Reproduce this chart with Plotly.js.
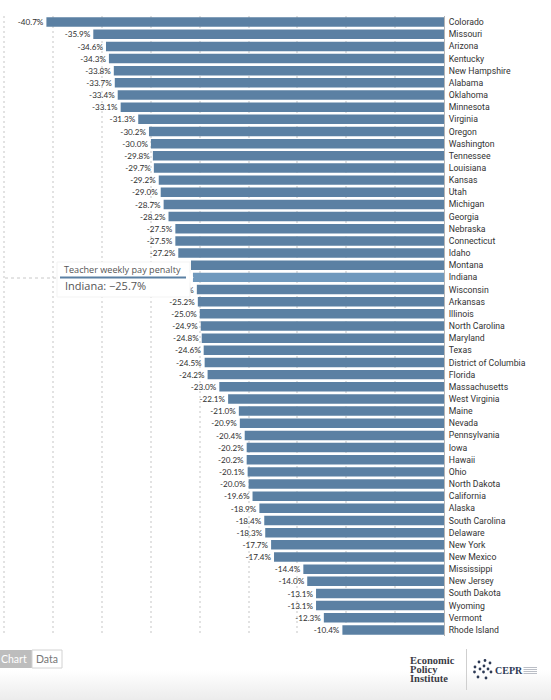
<!DOCTYPE html>
<html><head><meta charset="utf-8">
<script src="https://cdn.plot.ly/plotly-3.0.1.min.js"></script>
<style>
html,body{margin:0;padding:0;width:551px;height:700px;overflow:hidden;background:linear-gradient(to bottom,#fff 0,#fff 670px,#ececec 700px);}
#c{position:absolute;left:0;top:0;width:551px;height:700px;}
</style></head><body><div id="c"></div>
<script>
const states=["Colorado","Missouri","Arizona","Kentucky","New Hampshire","Alabama","Oklahoma","Minnesota","Virginia","Oregon","Washington","Tennessee","Louisiana","Kansas","Utah","Michigan","Georgia","Nebraska","Connecticut","Idaho","Montana","Indiana","Wisconsin","Arkansas","Illinois","North Carolina","Maryland","Texas","District of Columbia","Florida","Massachusetts","West Virginia","Maine","Nevada","Pennsylvania","Iowa","Hawaii","Ohio","North Dakota","California","Alaska","South Carolina","Delaware","New York","New Mexico","Mississippi","New Jersey","South Dakota","Wyoming","Vermont","Rhode Island"];
const penalty=[-40.7,-35.9,-34.6,-34.3,-33.8,-33.7,-33.4,-33.1,-31.3,-30.2,-30.0,-29.8,-29.7,-29.2,-29.0,-28.7,-28.2,-27.5,-27.5,-27.2,-25.9,-25.7,-25.3,-25.2,-25.0,-24.9,-24.8,-24.6,-24.5,-24.2,-23.0,-22.1,-21.0,-20.9,-20.4,-20.2,-20.2,-20.1,-20.0,-19.6,-18.9,-18.4,-18.3,-17.7,-17.4,-14.4,-14.0,-13.1,-13.1,-12.3,-10.4];
const gridTicks=[-45,-40,-35,-30,-25,-20,-15,-10,-5];
const highlighted="Indiana";
const seriesName="Teacher weekly pay penalty";
const BAR="#5b80a3",HI="#7099bd",FONT="Lato, sans-serif",TIP="'Open Sans', sans-serif",SERIF="'Liberation Serif', serif";
const W=551,H=700,T=16,B=636,R=444;
const py=y=>1-(y-T)/(B-T), toPaperX=x=>x/R;
const shapes=[],annos=[];
function box(x0,y0,x1,y1,fill,lc,lw){shapes.push({type:'rect',xref:'paper',yref:'paper',x0:toPaperX(x0),x1:toPaperX(x1),y0:py(y0),y1:py(y1),fillcolor:fill,line:{color:lc||fill,width:lw||0},layer:'above'});}
function line(x0,y0,x1,y1,c,w,d){shapes.push({type:'line',xref:'paper',yref:'paper',x0:toPaperX(x0),x1:toPaperX(x1),y0:py(y0),y1:py(y1),line:{color:c,width:w,dash:d||'solid'},layer:'above'});}
function text(t,x,y,size,color,fam){annos.push({text:t,xref:'paper',yref:'paper',x:toPaperX(x),y:py(y),showarrow:false,xanchor:'left',yanchor:'middle',font:{size:size,color:color,family:fam},borderpad:0,borderwidth:0});}
function poly(pts,fill,lc,lw){shapes.push({type:'path',xref:'paper',yref:'paper',path:'M'+pts.map(p=>toPaperX(p[0])+','+py(p[1])).join('L')+'Z',fillcolor:fill,line:{color:lc||fill,width:lw||0},layer:'above'});}
// tooltip
line(5,278,58,278,'#c8c8c8',1,'dot');
box(57,262,190,297,'#ffffff','#f3f3f3',1);
poly([[189.5,272],[193.5,277.5],[189.5,283]],'#ffffff');
line(60,277.5,186,277.5,BAR,2);
text(seriesName,64,269,9.1,'#555',TIP);
text(highlighted+": −"+Math.abs(penalty[states.indexOf(highlighted)]).toFixed(1)+"%",65,285.5,11,'#555',TIP);
// toggle
box(0,650,32,668,'#bdbdbd');
box(32,650,62,668,'#ffffff','#d2d2d2',1);
text("Chart",1,658.7,10.5,'#fff',FONT);
text("Data",35.5,658.7,10.5,'#777',FONT);
// logos
text("<b>Economic</b>",410,660.7,10.5,'#3b3b45',SERIF);
text("<b>Policy</b>",410,669.7,10.5,'#3b3b45',SERIF);
text("<b>Institute</b>",410,678.5,10.5,'#3b3b45',SERIF);
line(466.5,649,466.5,690,'#cfcfcf',1);
text("<b>CEPR</b>",494.5,670,10,'#2d3a55',SERIF);
[[479,662],[485,660.5],[490,663],[475,667],[474.5,672],[480,669],[484,666],[488,669],[491,672],[478,677],[486,678],[483.5,672]].forEach(p=>{shapes.push({type:'circle',xref:'paper',yref:'paper',x0:toPaperX(p[0]-1.4),x1:toPaperX(p[0]+1.4),y0:py(p[1]-1.4),y1:py(p[1]+1.4),fillcolor:'#2d3a55',line:{width:0},layer:'above'});});
[0,1,2,3].forEach(i=>line(523.5,667.5+i*2,537,667.5+i*2,'#a8adb8',0.8));
Plotly.newPlot('c',[{
  type:'bar',orientation:'h',x:penalty,y:states,
  marker:{color:states.map(s=>s===highlighted?HI:BAR),line:{width:0}},
  text:penalty.map(v=>v.toFixed(1)+"%"),textposition:'outside',cliponaxis:false,
  textfont:{size:10.3,color:'#2e2e2e',family:FONT},hoverinfo:'skip'
}],{
  width:W,height:H,showlegend:false,
  margin:{l:0,r:W-R,t:T,b:H-B,pad:0},
  paper_bgcolor:'rgba(0,0,0,0)',plot_bgcolor:'rgba(0,0,0,0)',
  bargap:0.22,
  xaxis:{range:[-45.45,0],tickmode:'array',tickvals:gridTicks,showticklabels:false,ticks:'',showgrid:true,gridcolor:'#e2e2e2',griddash:'2px,3px',gridwidth:2,zeroline:false,fixedrange:true},
  yaxis:{type:'category',categoryorder:'array',categoryarray:states,autorange:'reversed',side:'right',showgrid:false,zeroline:false,showline:true,linecolor:'#b5b5b5',linewidth:1,ticks:'outside',ticklen:2,tickcolor:'rgba(0,0,0,0)',tickfont:{size:8.7,color:'#333',family:"Roboto, sans-serif"},automargin:false,dtick:1,tickmode:'linear',fixedrange:true},
  shapes:shapes,annotations:annos
},{displayModeBar:false,staticPlot:true});
</script></body></html>
